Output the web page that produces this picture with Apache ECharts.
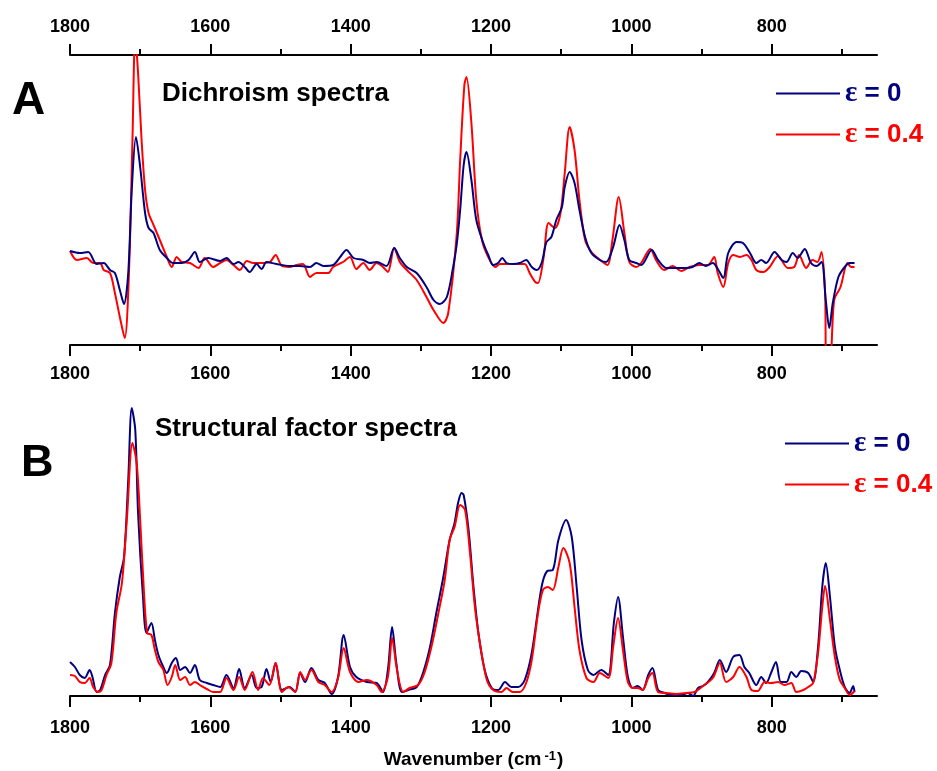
<!DOCTYPE html>
<html>
<head>
<meta charset="utf-8">
<script src="https://cdn.jsdelivr.net/npm/echarts@6/dist/echarts.min.js"></script>
<style>
html,body{margin:0;padding:0;background:#fff;}
#chart{width:937px;height:771px;}
</style>
</head>
<body>
<div id="chart"></div>
<script>
// ---------- data ----------
const seriesNames = ['ε = 0', 'ε = 0.4'];
const majorTicks = [1800, 1600, 1400, 1200, 1000, 800];
const minorTicks = [1700, 1500, 1300, 1100, 900, 700];

// Panel A: dichroism spectra (arbitrary units)
const waveA0 = [1800,1786,1774,1762,1752,1743,1736,1729,1723,1717,1712,1706,1700,1693,1688,1681,1672,1662,1653,1641,1631,1622,1615,1603,1586,1577,1567,1560,1551,1544,1534,1527,1520,1506,1487,1472,1458,1449,1439,1425,1415,1406,1396,1382,1373,1363,1349,1338,1330,1320,1306,1292,1282,1273,1263,1254,1249,1244,1239,1235,1228,1221,1211,1204,1197,1190,1184,1178,1169,1159,1150,1142,1135,1128,1121,1114,1107,1099,1095,1088,1081,1074,1066,1057,1045,1036,1026,1017,1010,1003,993,986,971,962,950,936,922,913,903,894,884,876,869,862,850,841,831,822,815,808,796,786,779,770,763,753,744,736,729,723,718,713,705,696,689,682];
const valA0 = [14,12,13,1,2,-5,-8,-25,-39,-8,75,128,98,52,37,32,15,7,2,2,5,13,3,7,4,7,1,3,-2,-7,1,-4,3,1,-1,-1,-2,2,-1,0,8,15,7,5,2,3,-1,17,7,-2,-8,-22,-35,-39,-32,-2,20,55,100,113,85,45,22,10,0,2,7,2,1,2,5,-2,-5,2,23,28,45,58,78,93,82,55,28,12,5,3,18,40,25,5,2,0,15,5,-3,-3,-3,-2,2,-1,2,-5,-13,12,23,22,12,2,5,2,13,5,3,12,7,16,2,-1,3,-35,-63,-38,-12,-2,2,2];

const waveA1 = [1800,1790,1776,1767,1757,1752,1743,1736,1729,1722,1716,1711,1707,1703,1698,1693,1688,1681,1672,1662,1655,1648,1641,1629,1617,1608,1596,1586,1577,1567,1558,1548,1539,1525,1515,1507,1498,1487,1477,1468,1458,1449,1432,1425,1411,1401,1392,1382,1373,1363,1354,1347,1338,1330,1320,1306,1292,1282,1268,1261,1249,1244,1238,1235,1228,1221,1213,1204,1194,1187,1178,1164,1152,1145,1137,1133,1125,1118,1109,1101,1095,1088,1081,1074,1066,1057,1048,1041,1034,1027,1018,1010,1003,993,986,973,965,953,941,929,917,903,891,882,877,869,862,855,845,836,829,822,812,803,791,777,768,761,751,742,735,729,724,722,717,711,702,692,687,682];
const valA1 = [14,5,7,2,2,-5,-8,-28,-52,-73,-8,125,230,192,125,75,52,40,25,8,-2,8,3,2,-3,7,-2,2,5,0,-5,4,2,2,3,10,-1,-2,0,1,-12,-8,-8,-2,3,8,-4,2,-5,2,-2,-7,17,3,-5,-15,-32,-45,-58,-48,30,105,180,188,142,65,25,8,-2,1,1,1,1,-8,-17,-18,8,42,37,52,92,138,115,65,25,13,7,3,0,25,68,32,3,-2,2,16,5,-5,-1,-6,-2,0,0,8,-8,-22,2,10,8,10,5,-5,-7,-2,9,-3,-2,10,-3,5,3,13,-28,-95,-95,-35,-22,2,-2,-2];

// Panel B: structural factor spectra (arbitrary units)
const waveB0 = [1800,1793,1786,1779,1772,1768,1762,1757,1750,1743,1736,1729,1723,1717,1712,1707,1703,1696,1691,1684,1679,1674,1667,1662,1655,1649,1643,1636,1629,1622,1615,1605,1596,1586,1577,1567,1559,1551,1541,1534,1527,1520,1514,1507,1498,1487,1479,1472,1465,1456,1446,1437,1427,1418,1410,1401,1392,1377,1363,1354,1347,1341,1335,1327,1318,1306,1297,1287,1278,1268,1259,1252,1247,1242,1239,1232,1225,1218,1209,1199,1190,1180,1171,1161,1152,1142,1128,1120,1112,1104,1093,1085,1078,1071,1062,1054,1043,1033,1025,1019,1012,1005,998,991,984,976,970,962,953,941,929,920,912,905,898,891,882,874,865,855,846,839,832,822,815,808,801,794,787,779,772,765,758,748,741,734,728,723,717,710,703,696,689,684,682];
const valB0 = [34,29,21,18,26,19,4,6,21,31,83,119,139,216,288,266,183,99,63,73,56,41,29,23,33,38,26,29,23,31,16,13,11,9,21,8,27,8,21,8,9,27,14,33,6,9,4,23,14,28,16,13,2,19,61,29,19,14,13,4,26,69,33,4,6,9,23,49,83,119,156,173,193,203,201,166,109,63,26,8,6,14,9,9,16,43,109,125,126,156,176,159,109,56,26,21,26,21,73,99,59,19,8,10,6,21,28,6,3,1,1,3,0,8,10,14,23,36,24,39,41,29,23,11,19,13,23,34,14,14,24,19,25,23,14,49,109,133,99,49,26,9,3,10,4];

const waveB1 = [1800,1793,1786,1779,1772,1767,1760,1755,1748,1741,1734,1726,1719,1711,1705,1700,1695,1690,1684,1679,1674,1667,1661,1655,1650,1643,1636,1629,1622,1615,1605,1596,1586,1577,1567,1559,1551,1540,1532,1525,1516,1507,1498,1489,1479,1472,1465,1456,1446,1437,1427,1418,1410,1401,1389,1377,1363,1356,1347,1341,1334,1325,1316,1304,1295,1285,1275,1266,1259,1252,1244,1237,1230,1223,1215,1206,1197,1185,1178,1169,1159,1150,1142,1133,1126,1119,1112,1104,1097,1088,1081,1074,1064,1054,1045,1033,1026,1019,1012,1005,998,991,984,976,970,962,950,936,922,910,898,884,874,865,855,846,836,829,820,810,801,791,782,772,765,755,748,741,734,728,724,717,710,703,696,689,682];
const valB1 = [21,20,14,13,18,9,4,6,21,33,83,113,176,253,233,176,109,63,61,46,34,26,11,19,31,16,19,11,14,11,7,4,4,18,6,19,6,24,6,18,11,33,4,9,4,24,16,26,14,11,4,18,48,24,14,16,11,4,19,58,26,4,8,11,23,49,83,116,156,169,191,186,143,89,49,16,6,4,8,4,4,13,36,83,106,109,106,129,148,133,89,46,18,14,23,18,49,78,46,14,8,8,6,18,23,4,3,2,3,4,10,18,33,14,19,29,19,6,5,14,13,14,11,13,4,6,9,13,43,89,110,76,39,16,8,1,5];

// ---------- chart ----------
const BLUE = '#000080', RED = '#ff0000';
const FONT = "'Liberation Sans', Arial, sans-serif";
const zip = (w, v) => w.map((x, i) => [x, v[i]]);

function xAx(grid, pos, major, margin, opts) {
  return Object.assign({
    type: 'value', gridIndex: grid, position: pos, inverse: true,
    min: 650, max: 1800,
    splitLine: { show: false },
    axisLine: { show: major, onZero: false, lineStyle: { color: '#000', width: 2 } },
    axisTick: { show: true, inside: false, length: major ? 11 : 6,
      customValues: major ? majorTicks : minorTicks,
      lineStyle: { color: '#000', width: 2 } },
    axisLabel: { show: major, customValues: majorTicks, margin: margin,
      formatter: v => String(v),
      color: '#000', fontSize: 18, fontWeight: 'bold', fontFamily: FONT }
  }, opts || {});
}

const chart = echarts.init(document.getElementById('chart'), null, { renderer: 'canvas' });

const titleStyle = (size) => ({ fontSize: size, fontWeight: 'bold', color: '#000', fontFamily: FONT });

function legendData() {
  return [
    { name: seriesNames[0], itemStyle: { color: BLUE }, textStyle: { color: BLUE, rich: { e: { color: BLUE, fontFamily: "'Liberation Serif', serif", fontSize: 29, fontWeight: 'bold' } } } },
    { name: seriesNames[1], itemStyle: { color: RED }, textStyle: { color: RED, rich: { e: { color: RED, fontFamily: "'Liberation Serif', serif", fontSize: 29, fontWeight: 'bold' } } } }
  ];
}
const legendCommon = {
  orient: 'vertical', itemWidth: 64, itemHeight: 2, itemGap: 12, padding: 0,
  icon: 'rect',
  formatter: n => '{e|ε}' + n.slice(1),
  textStyle: { fontSize: 26, fontWeight: 'bold', fontFamily: FONT }
};

chart.setOption({
  animation: false,
  backgroundColor: '#fff',
  title: [
    { text: 'A', left: 12, top: 78, padding: 0, textStyle: titleStyle(46) },
    { text: 'Dichroism spectra', left: 162, top: 81, padding: 0, textStyle: titleStyle(26) },
    { text: 'B', left: 21, top: 441, padding: 0, textStyle: titleStyle(45) },
    { text: 'Structural factor spectra', left: 155, top: 416, padding: 0, textStyle: titleStyle(26) }
  ],
  legend: [
    Object.assign({ left: 776, top: 79, data: legendData() }, legendCommon),
    Object.assign({ left: 785, top: 429, data: legendData() }, legendCommon)
  ],
  grid: [
    { left: 70, width: 807, top: 55, height: 290 },
    { left: 70, width: 807, top: 396, height: 300 }
  ],
  xAxis: [
    xAx(0, 'bottom', true, 20),
    xAx(0, 'top', true, 19),
    xAx(0, 'bottom', false, 20),
    xAx(0, 'top', false, 19),
    xAx(1, 'bottom', true, 23, {
      name: '{a|Wavenumber (cm}{s|-1}{a|)}', nameLocation: 'middle', nameGap: 54,
      nameTextStyle: { rich: {
        a: { fontSize: 19, fontWeight: 'bold', color: '#000', fontFamily: FONT, verticalAlign: 'bottom' },
        s: { fontSize: 13, fontWeight: 'bold', color: '#000', fontFamily: FONT, verticalAlign: 'top', padding: [0, 1, 6, 3] }
      } }
    }),
    xAx(1, 'bottom', false, 23)
  ],
  yAxis: [
    { type: 'value', gridIndex: 0, min: -80, max: 210, show: false, splitLine: { show: false } },
    { type: 'value', gridIndex: 1, min: 0, max: 300, show: false, splitLine: { show: false } }
  ],
  series: [
    { name: seriesNames[0], type: 'line', xAxisIndex: 0, yAxisIndex: 0, data: zip(waveA0, valA0), symbol: 'none', smooth: 0.3, clip: true, lineStyle: { color: BLUE, width: 2 }, itemStyle: { color: BLUE }, z: 3 },
    { name: seriesNames[1], type: 'line', xAxisIndex: 0, yAxisIndex: 0, data: zip(waveA1, valA1), symbol: 'none', smooth: 0.3, clip: true, lineStyle: { color: RED, width: 2 }, itemStyle: { color: RED }, z: 2 },
    { name: seriesNames[0], type: 'line', xAxisIndex: 4, yAxisIndex: 1, data: zip(waveB0, valB0), symbol: 'none', smooth: 0.3, clip: true, lineStyle: { color: BLUE, width: 2 }, itemStyle: { color: BLUE }, z: 2 },
    { name: seriesNames[1], type: 'line', xAxisIndex: 4, yAxisIndex: 1, data: zip(waveB1, valB1), symbol: 'none', smooth: 0.3, clip: true, lineStyle: { color: RED, width: 2 }, itemStyle: { color: RED }, z: 3 }
  ]
});
</script>
</body>
</html>
